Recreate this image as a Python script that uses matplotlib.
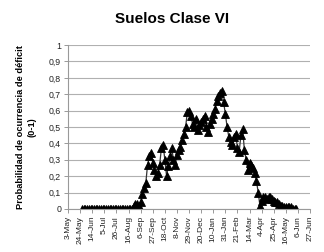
import numpy as np
import matplotlib
matplotlib.use("Agg")
import matplotlib.pyplot as plt

plt.rcParams['font.family'] = ['Liberation Sans', 'DejaVu Sans']

# x tick labels, one every 21 days starting 3-May
tick_labels = ["3-May", "24-May", "14-Jun", "5-Jul", "26-Jul", "16-Aug", "6-Sep",
               "27-Sep", "18-Oct", "8-Nov", "29-Nov", "20-Dec", "10-Jan", "31-Jan",
               "21-Feb", "14-Mar", "4-Apr", "25-Apr", "16-May", "6-Jun", "27-Jun"]

# day index (days after 3-May) of each sample, every 3 days
days = list(range(24, 397, 3))

# probability of deficit
prob = [0, 0, 0, 0, 0, 0, 0, 0, 0, 0,
        0, 0, 0, 0, 0, 0, 0, 0, 0, 0,
        0, 0, 0, 0, 0, 0, 0, 0, 0, 0,
        0.02, 0.03, 0.03, 0.02, 0.04, 0.09, 0.13, 0.16, 0.27, 0.32,
        0.34, 0.28, 0.24, 0.20, 0.22, 0.27, 0.37, 0.39, 0.30, 0.20,
        0.26, 0.32, 0.37, 0.30, 0.27, 0.33, 0.36, 0.38, 0.42, 0.46,
        0.50, 0.59, 0.60, 0.57, 0.52, 0.50, 0.55, 0.48, 0.51, 0.53,
        0.55, 0.57, 0.50, 0.47, 0.52, 0.55, 0.58, 0.61, 0.66, 0.69,
        0.71, 0.72, 0.65, 0.58, 0.50, 0.44, 0.41, 0.39, 0.44, 0.46,
        0.37, 0.35, 0.45, 0.49, 0.36, 0.30, 0.24, 0.28, 0.27, 0.25,
        0.22, 0.17, 0.10, 0.02, 0.05, 0.07, 0.07, 0.06, 0.07, 0.07,
        0.06, 0.05, 0.04, 0.04, 0.03, 0.02, 0.015, 0.01, 0.01, 0.01,
        0.01, 0.01, 0, 0, 0]

fig = plt.figure(figsize=(3.24, 2.52), dpi=100)
ax = fig.add_axes([0.21, 0.171, 0.747, 0.65])

ax.plot(days, prob, color='#333333', linewidth=0.9, marker='^', markersize=5.2,
        markerfacecolor='black', markeredgecolor='black', markeredgewidth=0.6)

ax.set_xlim(0, 420)
ax.set_ylim(0, 1)
ax.set_xticks(np.arange(0, 421, 21))
ax.set_xticklabels(tick_labels, rotation=90, fontsize=6, color='#222222')
ax.set_yticks(np.arange(0, 1.01, 0.1))
ax.set_yticklabels(["0", "0,1", "0,2", "0,3", "0,4", "0,5", "0,6", "0,7", "0,8", "0,9", "1"],
                   fontsize=6.3, color='#222222')

ax.yaxis.grid(True, color='#b0b0b0', linewidth=0.8)
ax.set_axisbelow(True)
for s in ['top', 'right']:
    ax.spines[s].set_visible(False)
ax.spines['left'].set_color('#999999')
ax.spines['bottom'].set_color('#999999')
ax.tick_params(axis='both', length=3, color='#999999', width=0.7, pad=2)

ax.set_ylabel("Probabilidad de ocurrencia de déficit\n(0-1)", fontsize=6.7,
              fontweight='bold', labelpad=9, linespacing=1.3)
fig.text(0.53, 0.925, "Suelos Clase VI", ha='center', va='center',
         fontsize=11, fontweight='bold')

fig.savefig("out.png", dpi=100)
